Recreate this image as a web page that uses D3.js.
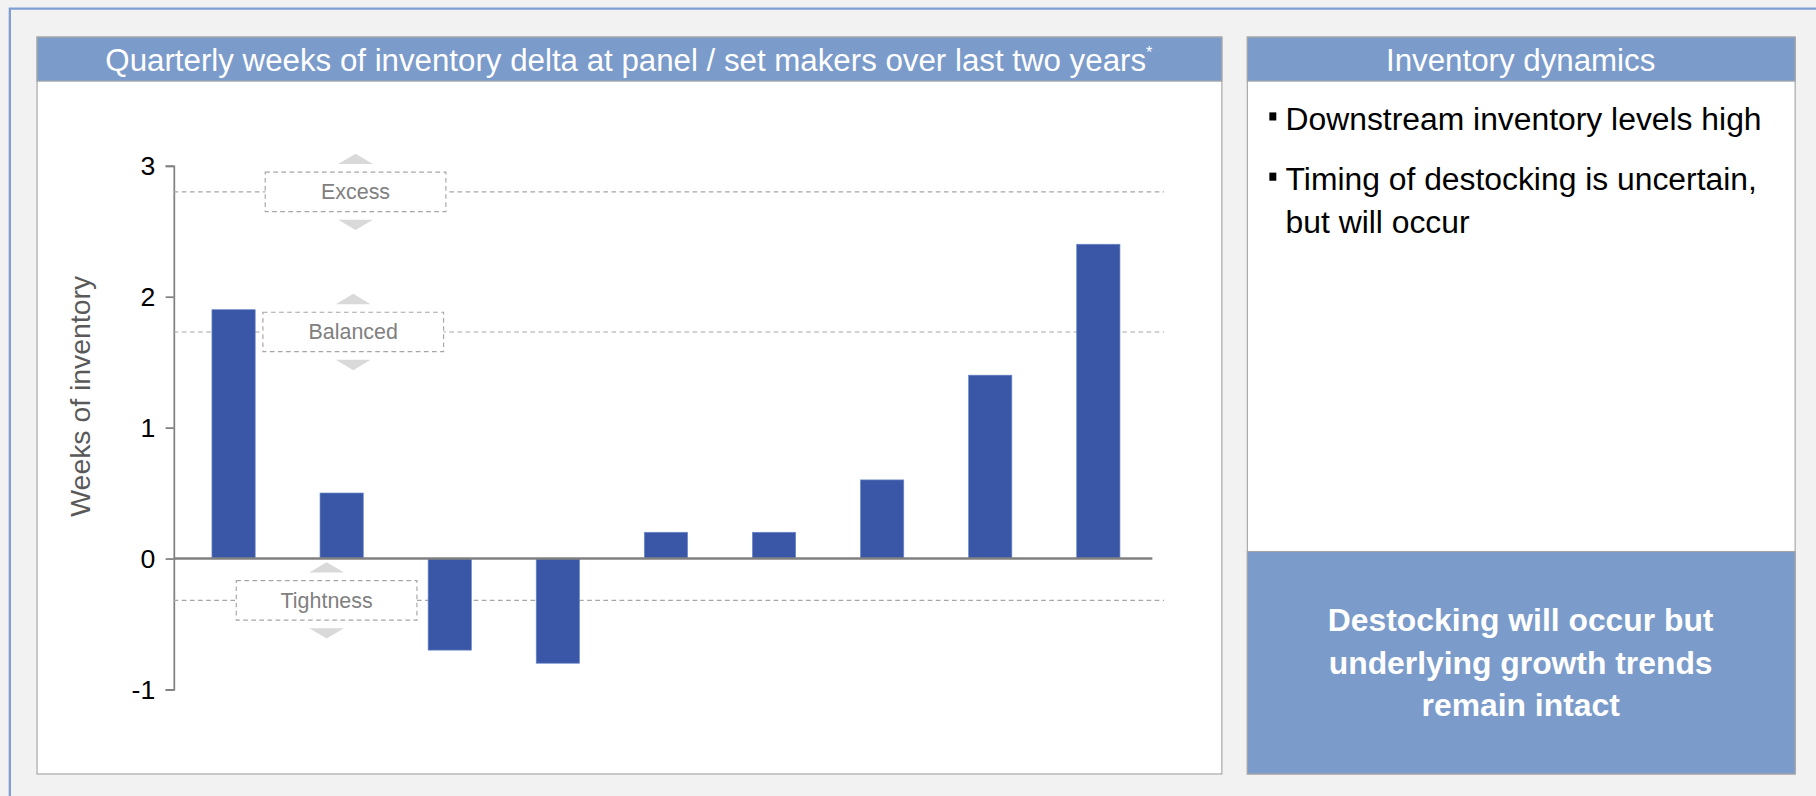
<!DOCTYPE html>
<html lang="en">
<head>
<meta charset="UTF-8">
<title>Weeks of inventory</title>
<script src="https://d3js.org/d3.v7.min.js"></script>
<style>
  html, body { margin: 0; padding: 0; background: #f2f2f2; }
  body { font-family: "Liberation Sans", Arial, sans-serif; }
  svg { display: block; }
</style>
</head>
<body>
<div id="chart"></div>
<script>
// data
const quarters = ["Q1", "Q2", "Q3", "Q4", "Q5", "Q6", "Q7", "Q8", "Q9"];
const weeks = [1.9, 0.5, -0.7, -0.8, 0.2, 0.2, 0.6, 1.4, 2.4];
const yTicks = [-1, 0, 1, 2, 3];
const zoneNames = ["Excess", "Balanced", "Tightness"];
const zoneLevels = [2.8, 1.73, -0.32];
const zoneLabelX = [307, 305, 282];
const bullets = ["Downstream inventory levels high", "Timing of destocking is uncertain,"];
const bulletWrap = ["but will occur"];
const takeaway = ["Destocking will occur but", "underlying growth trends", "remain intact"];

const W = 1568, H = 687;
const blue = "#7b9bcb", barBlue = "#3a57a7";

const svg = d3.select("#chart").append("svg")
    .attr("width", 1816).attr("height", 796)
    .attr("viewBox", `0 0 ${W} ${H}`)
    .attr("preserveAspectRatio", "none");

svg.append("rect").attr("width", W).attr("height", H).attr("fill", "#f2f2f2");
// outer frame
svg.append("path").attr("d", `M8.5,${H} V7.5 H${W}`)
    .attr("fill", "none").attr("stroke", "#7f9fd2").attr("stroke-width", 2);

// left panel
svg.append("rect").attr("x", 32).attr("y", 32).attr("width", 1023).attr("height", 636)
    .attr("fill", "#fff").attr("stroke", "#a6a6a6");
svg.append("rect").attr("x", 32).attr("y", 32).attr("width", 1023).attr("height", 38)
    .attr("fill", blue).attr("stroke", "#a6a6a6");
const title = svg.append("text").attr("x", 543).attr("y", 61)
    .attr("text-anchor", "middle").attr("fill", "#fff").attr("font-size", 27);
title.append("tspan").text("Quarterly weeks of inventory delta at panel / set makers over last two years");
title.append("tspan").attr("dy", -11).attr("font-size", 14).text("*");

// right panel
svg.append("rect").attr("x", 1077).attr("y", 32).attr("width", 473).attr("height", 636)
    .attr("fill", "#fff").attr("stroke", "#a6a6a6");
svg.append("rect").attr("x", 1077).attr("y", 32).attr("width", 473).attr("height", 38)
    .attr("fill", blue).attr("stroke", "#a6a6a6");
svg.append("text").attr("x", 1313).attr("y", 61).attr("text-anchor", "middle")
    .attr("fill", "#fff").attr("font-size", 27).text("Inventory dynamics");

bullets.forEach((b, i) => {
    const y = 112 + i * 52;
    svg.append("rect").attr("x", 1096).attr("y", y - 15).attr("width", 6).attr("height", 7).attr("fill", "#000");
    svg.append("text").attr("x", 1110).attr("y", y).attr("font-size", 27.5).attr("fill", "#000").text(b);
});
bulletWrap.forEach((b, i) => {
    svg.append("text").attr("x", 1110).attr("y", 201 + i * 37).attr("font-size", 27.5).attr("fill", "#000").text(b);
});

svg.append("rect").attr("x", 1077).attr("y", 476).attr("width", 473).attr("height", 192)
    .attr("fill", blue).attr("stroke", "#a6a6a6");
takeaway.forEach((t, i) => {
    svg.append("text").attr("x", 1313).attr("y", 545 + i * 36.5).attr("text-anchor", "middle")
        .attr("fill", "#fff").attr("font-size", 27.5).attr("font-weight", "bold").text(t);
});

// chart
const x = d3.scaleBand().domain(quarters).range([155, 995]).paddingInner(0.6).paddingOuter(0.3);
const y = d3.scaleLinear().domain([-1, 3]).range([595, 143]);

const axis = svg.append("g").attr("transform", "translate(150,0)")
    .call(d3.axisLeft(y).tickValues(yTicks).tickSize(7).tickPadding(9).tickFormat(d => String(d)));
axis.select(".domain").attr("stroke", "#808080").attr("stroke-width", 1.5);
axis.selectAll(".tick line").attr("stroke", "#808080").attr("stroke-width", 1.5);
axis.selectAll(".tick text").attr("font-size", 23).attr("fill", "#000")
    .attr("font-family", "Liberation Sans, Arial, sans-serif");

svg.append("text").attr("transform", "translate(78,342) rotate(-90)")
    .attr("text-anchor", "middle").attr("font-size", 24.5).attr("fill", "#595959").text("Weeks of inventory");

// zone lines
svg.selectAll(".zone").data(zoneLevels).enter().append("line")
    .attr("x1", 150).attr("x2", 1005)
    .attr("y1", d => y(d)).attr("y2", d => y(d))
    .attr("stroke", "#a6a6a6").attr("stroke-dasharray", "4,3");

// bars
svg.selectAll(".bar").data(weeks).enter().append("rect")
    .attr("x", (d, i) => x(quarters[i]))
    .attr("width", x.bandwidth())
    .attr("y", d => y(Math.max(0, d)))
    .attr("height", d => Math.abs(y(d) - y(0)))
    .attr("fill", barBlue).attr("stroke", "#6a86c8").attr("stroke-width", 0.6);

// zero line
svg.append("line").attr("x1", 150).attr("x2", 995).attr("y1", y(0)).attr("y2", y(0))
    .attr("stroke", "#808080").attr("stroke-width", 2);

// zone labels
zoneNames.forEach((name, i) => {
    const cx = zoneLabelX[i], cy = y(zoneLevels[i]);
    const g = svg.append("g");
    g.append("rect").attr("x", cx - 78).attr("y", cy - 17).attr("width", 156).attr("height", 34)
        .attr("fill", "#fff").attr("stroke", "#a6a6a6").attr("stroke-dasharray", "4,3");
    g.append("text").attr("x", cx).attr("y", cy + 6.5).attr("text-anchor", "middle")
        .attr("font-size", 18.5).attr("fill", "#808080").text(name);
    g.append("path").attr("d", `M${cx - 15},${cy - 24} L${cx + 15},${cy - 24} L${cx},${cy - 33} Z`).attr("fill", "#d9d9d9");
    g.append("path").attr("d", `M${cx - 15},${cy + 24} L${cx + 15},${cy + 24} L${cx},${cy + 33} Z`).attr("fill", "#d9d9d9");
});
</script>
</body>
</html>
